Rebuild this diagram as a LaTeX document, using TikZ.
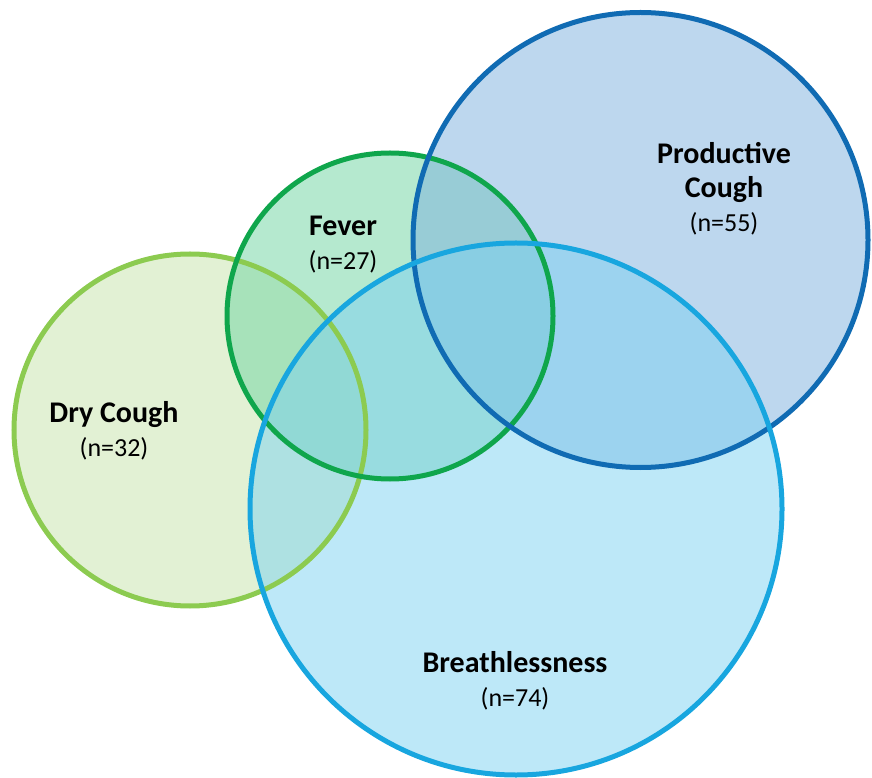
\documentclass[tikz,border=0pt]{standalone}
\usepackage{fontspec}
\setmainfont{Carlito}
\usepackage{xcolor}
\usetikzlibrary{positioning}

\definecolor{dryfill}{HTML}{C6E3A9}
\definecolor{drystroke}{HTML}{8CCB50}
\definecolor{feverfill}{HTML}{6CD3A0}
\definecolor{feverstroke}{HTML}{0FA64C}
\definecolor{prodfill}{HTML}{7BAFDD}
\definecolor{prodstroke}{HTML}{106BB3}
\definecolor{breathfill}{HTML}{7CD1F1}
\definecolor{breathstroke}{HTML}{18A6DF}

\begin{document}
\begin{tikzpicture}[
        x=1pt, y=1pt,
        set/.style={circle, fill opacity=0.5, inner sep=0pt},
        rim/.style={line width=5pt},
        tag/.style={align=center, text=black, font=\fontsize{26}{34}\selectfont}
    ]
        \useasboundingbox (0,0) rectangle (872,777);

        % Sets
        \node[set, minimum size=352pt, fill=dryfill] (dry) at (190,347) {};
        \node[set, minimum size=326pt, fill=feverfill] (fever) at (390,461) {};
        \node[set, minimum size=455pt, fill=prodfill] (prod) at (640.5,537) {};
        \node[set, minimum size=532pt, fill=breathfill] (breath) at (516,268) {};

        % Outlines
        \draw[rim, drystroke] (dry.center) circle[radius=176pt];
        \draw[rim, feverstroke] (fever.center) circle[radius=163pt];
        \draw[rim, prodstroke] (prod.center) circle[radius=227.5pt];
        \draw[rim, breathstroke] (breath.center) circle[radius=266pt];

        % Labels
        \node[tag] (drylabel) at (114,346) {{\fontsize{30}{34}\selectfont\bfseries Dry Cough}\\(n=32)};
        \node[tag] (feverlabel) at (343,532) {{\fontsize{30}{34}\selectfont\bfseries Fever}\\(n=27)};
        \node[tag] (prodlabel) at (724,588) {{\fontsize{30}{36}\selectfont\bfseries Productive}\\{\fontsize{30}{36}\selectfont\bfseries Cough}\\(n=55)};
        \node[tag] (breathlabel) at (515,96) {{\fontsize{30}{34}\selectfont\bfseries Breathlessness}\\(n=74)};
    \end{tikzpicture}
\end{document}
